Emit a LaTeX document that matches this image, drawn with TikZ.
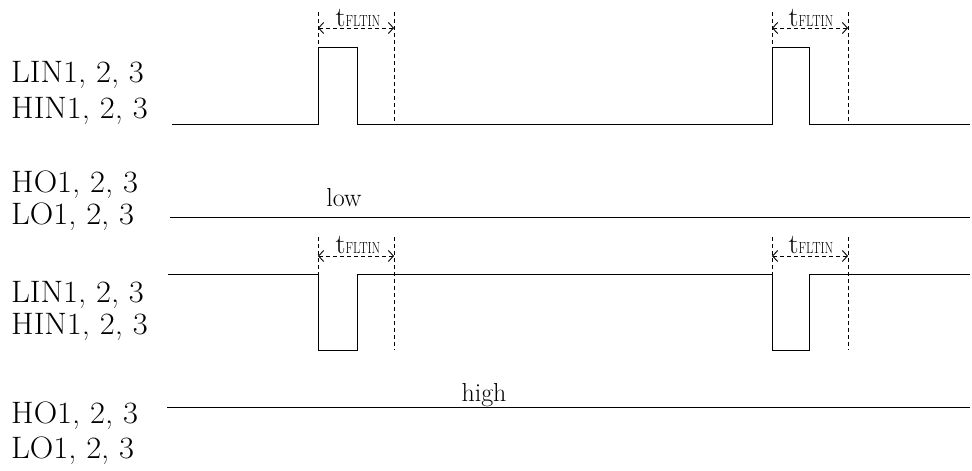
\documentclass[tikz,border=0pt]{standalone}
\usetikzlibrary{arrows.meta}
\newcommand{\sigfont}{\fontsize{31}{31}\selectfont}
\newcommand{\sig}[1]{\scalebox{1.05}[1]{\sigfont #1}}
\newcommand{\tflt}{{\fontsize{28}{28}\selectfont t}\scalebox{0.78}[1]{\fontsize{16}{16}\selectfont FLTIN}}
\begin{document}
\begin{tikzpicture}[x=1pt,y=-1pt,
  wave/.style={line width=1pt},
  guide/.style={line width=0.9pt,dash pattern=on 4pt off 3pt},
  dim/.style={line width=0.9pt,dash pattern=on 4pt off 3pt,
    {Straight Barb[length=5pt,width=11pt]}-{Straight Barb[length=5pt,width=11pt]}},
  siglabel/.style={anchor=base west,inner sep=0pt},
  lvl/.style={anchor=base,inner sep=0pt,font=\fontsize{26}{26}\selectfont}]
\useasboundingbox (0,0) rectangle (972,471);
% labels
\node[siglabel] (l1) at (11,82) {\sig{LIN1, 2, 3}};
\node[siglabel] (h1) at (11,118) {\sig{HIN1, 2, 3}};
\node[siglabel] (ho2) at (11,192) {\sig{HO1, 2, 3}};
\node[siglabel] (lo2) at (11,224) {\sig{LO1, 2, 3}};
\node[siglabel] (l3) at (11,302) {\sig{LIN1, 2, 3}};
\node[siglabel] (h3) at (11,334) {\sig{HIN1, 2, 3}};
\node[siglabel] (ho4) at (11,423) {\sig{HO1, 2, 3}};
\node[siglabel] (lo4) at (11,458) {\sig{LO1, 2, 3}};
% panel 1
\draw[wave] (172,124) -- (318,124) -- (318,47) -- (357,47) -- (357,124) -- (772,124) -- (772,47) -- (809,47) -- (809,124) -- (970,124);
\draw[guide] (318,12) -- (318,124);
\draw[guide] (394,12) -- (394,124);
\draw[guide] (772,12) -- (772,124);
\draw[guide] (848,12) -- (848,124);
\coordinate (a1) at (318,28); \coordinate (b1) at (394,28);
\coordinate (a2) at (772,28); \coordinate (b2) at (848,28);
\draw[dim] (a1) -- (b1);
\draw[dim] (a2) -- (b2);
\node[anchor=base,inner sep=0pt] (t1) at (358,26) {\tflt};
\node[anchor=base,inner sep=0pt] (t2) at (811,26) {\tflt};
% panel 2
\draw[wave] (170,217) -- (970,217);
\node[lvl] (low) at (344,206) {low};
% panel 3
\draw[wave] (168,274) -- (318,274) -- (318,350) -- (357,350) -- (357,274) -- (772,274) -- (772,350) -- (809,350) -- (809,274) -- (970,274);
\draw[guide] (318,237) -- (318,350);
\draw[guide] (394,237) -- (394,350);
\draw[guide] (772,237) -- (772,350);
\draw[guide] (848,237) -- (848,350);
\coordinate (a3) at (318,256); \coordinate (b3) at (394,256);
\coordinate (a4) at (772,256); \coordinate (b4) at (848,256);
\draw[dim] (a3) -- (b3);
\draw[dim] (a4) -- (b4);
\node[anchor=base,inner sep=0pt] (t3) at (358,253) {\tflt};
\node[anchor=base,inner sep=0pt] (t4) at (811,253) {\tflt};
% panel 4
\draw[wave] (167,407) -- (970,407);
\node[lvl] (high) at (484,401) {high};
\end{tikzpicture}
\end{document}
